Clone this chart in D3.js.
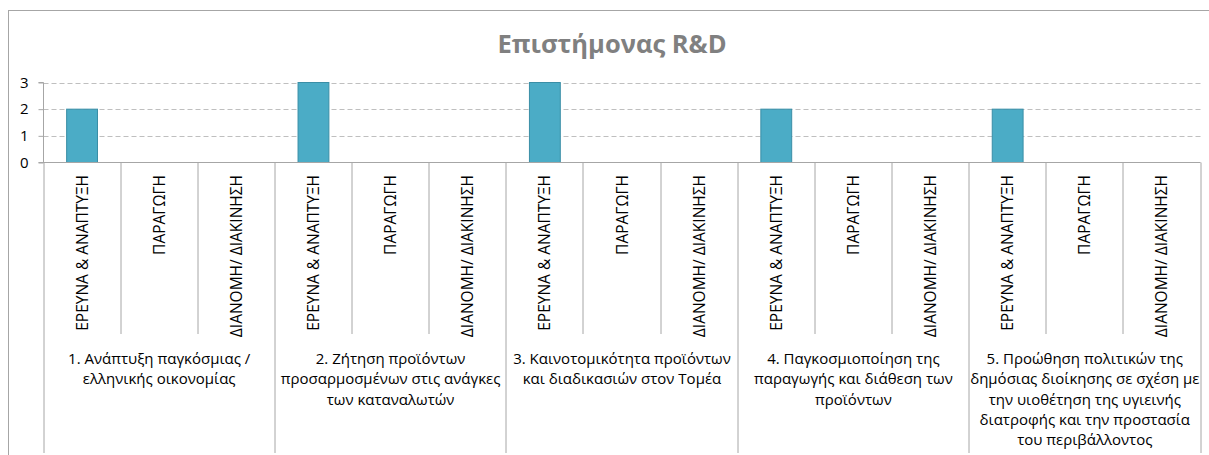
<!DOCTYPE html>
<html>
<head>
<meta charset="utf-8">
<script src="https://cdn.jsdelivr.net/npm/d3@7"></script>
<style>
  html, body { margin: 0; padding: 0; background: #fff; }
  svg { display: block; }
  text { font-family: "Open Sans", "Noto Sans", sans-serif; }
</style>
</head>
<body>
<svg id="chart" width="1209" height="455"></svg>
<script>
const title = "Επιστήμονας R&D";
const groups = [
  ["1. Ανάπτυξη παγκόσμιας /", "ελληνικής οικονομίας"],
  ["2. Ζήτηση προϊόντων", "προσαρμοσμένων στις ανάγκες", "των καταναλωτών"],
  ["3. Καινοτομικότητα προϊόντων", "και διαδικασιών στον Τομέα"],
  ["4. Παγκοσμιοποίηση της", "παραγωγής και διάθεση των", "προϊόντων"],
  ["5. Προώθηση πολιτικών της", "δημόσιας διοίκησης σε σχέση με", "την υιοθέτηση της υγιεινής", "διατροφής και την προστασία", "του περιβάλλοντος"]
];
const subcategories = ["ΕΡΕΥΝΑ & ΑΝΑΠΤΥΞΗ", "ΠΑΡΑΓΩΓΗ", "ΔΙΑΝΟΜΗ/ ΔΙΑΚΙΝΗΣΗ"];
const values = [
  2, 0, 0,
  3, 0, 0,
  3, 0, 0,
  2, 0, 0,
  2, 0, 0
];
const yTicks = [0, 1, 2, 3];

const svg = d3.select("#chart");
const m = { left: 43.5, right: 1200.5, top: 82.5, bottom: 162.5 };

// outer border
svg.append("rect").attr("x", 8.5).attr("y", 10.5).attr("width", 1210).attr("height", 460)
  .attr("fill", "#fff").attr("stroke", "#a6a6a6").attr("stroke-width", 1);

// title
svg.append("text").attr("x", 612).attr("y", 53).attr("text-anchor", "middle")
  .attr("font-size", 25.5).attr("font-weight", "bold").attr("fill", "#808080").text(title);

const keys = [];
groups.forEach((g, gi) => subcategories.forEach((s, si) => keys.push(gi + "-" + si)));

const x = d3.scaleBand().domain(keys).range([m.left, m.right]).paddingInner(0).paddingOuter(0);
const y = d3.scaleLinear().domain([0, 3]).range([m.bottom, m.top]);

// gridlines
svg.append("g").selectAll("line").data(yTicks.filter(d => d > 0)).join("line")
  .attr("x1", m.left).attr("x2", m.right)
  .attr("y1", d => Math.round(y(d)) + 0.5).attr("y2", d => Math.round(y(d)) + 0.5)
  .attr("stroke", "#bfbfbf").attr("stroke-width", 1).attr("stroke-dasharray", "5,3");

// y axis
const yAxis = d3.axisLeft(y).tickValues(yTicks).tickSize(5).tickPadding(10).tickFormat(d3.format("d"));
const ya = svg.append("g").attr("transform", `translate(${m.left},0)`).call(yAxis);
ya.select(".domain").attr("stroke", "#a6a6a6").attr("d", `M-5,${m.top}H0V${m.bottom}`);
ya.selectAll(".tick line").attr("stroke", "#a6a6a6");
ya.selectAll(".tick text").attr("font-size", 15).attr("fill", "#000")
  .attr("font-family", "'Open Sans', sans-serif");

// bars
const bw = x.bandwidth() * 0.4;
svg.append("g").selectAll("rect").data(values.map((v, i) => ({ k: keys[i], v })).filter(d => d.v > 0)).join("rect")
  .attr("x", d => x(d.k) + x.bandwidth() / 2 - bw / 2)
  .attr("width", bw)
  .attr("y", d => y(d.v))
  .attr("height", d => y(0) - y(d.v))
  .attr("fill", "#4bacc6").attr("stroke", "#3a8ea6").attr("stroke-width", 1);

// x axis baseline
svg.append("line").attr("x1", m.left - 5).attr("x2", m.right).attr("y1", m.bottom).attr("y2", m.bottom)
  .attr("stroke", "#a6a6a6").attr("stroke-width", 1.2);

// category separators
const sepInnerBottom = 334, sepOuterBottom = 453;
const boundaries = d3.range(keys.length + 1);
svg.append("g").selectAll("line").data(boundaries).join("line")
  .attr("x1", i => Math.round(i < keys.length ? x(keys[i]) : m.right))
  .attr("x2", i => Math.round(i < keys.length ? x(keys[i]) : m.right))
  .attr("y1", m.bottom)
  .attr("y2", i => (i % 3 === 0) ? sepOuterBottom : sepInnerBottom)
  .attr("stroke", "#a6a6a6").attr("stroke-width", 1);

// rotated subcategory labels
svg.append("g").selectAll("text").data(keys).join("text")
  .attr("transform", k => `translate(${x(k) + x.bandwidth() / 2 + 5.5},175) rotate(-90)`)
  .attr("text-anchor", "end")
  .attr("font-size", 15.5).attr("fill", "#000")
  .text(k => subcategories[+k.split("-")[1]]);

// group labels
groups.forEach((lines, gi) => {
  const x0 = x(gi + "-0"), x1 = x(gi + "-2") + x.bandwidth();
  const t = svg.append("text").attr("text-anchor", "middle").attr("font-size", 15).attr("fill", "#000");
  lines.forEach((ln, li) => {
    t.append("tspan").attr("x", (x0 + x1) / 2).attr("y", 364 + li * 20.3).text(ln);
  });
});
</script>
</body>
</html>
